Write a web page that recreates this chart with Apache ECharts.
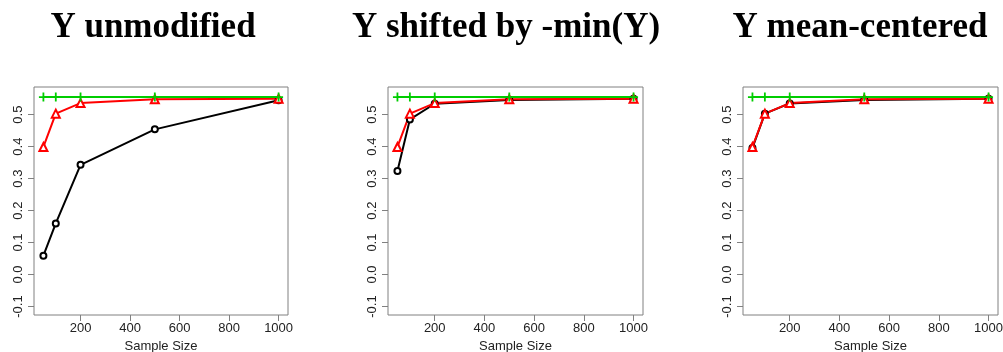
<!DOCTYPE html>
<html>
<head>
<meta charset="utf-8">
<script src="https://cdn.jsdelivr.net/npm/echarts@6/dist/echarts.min.js"></script>
<style>
  html, body { margin: 0; padding: 0; background: #fff; }
  #main { width: 1003px; height: 352px; }
</style>
</head>
<body>
<div id="main"></div>
<script>
var sampleSizes = [50, 100, 200, 500, 1000];
var panelTitles = ['Y unmodified', 'Y shifted by -min(Y)', 'Y mean-centered'];
var xTicks = [200, 400, 600, 800, 1000];
var yTicks = [-0.1, 0, 0.1, 0.2, 0.3, 0.4, 0.5];

// black circles (one per panel)
var blackUnmod = [0.059, 0.160, 0.343, 0.454, 0.545];
var blackShift = [0.324, 0.485, 0.534, 0.546, 0.550];
var blackCenter = [0.396, 0.503, 0.535, 0.546, 0.550];
// red triangles (same in each panel)
var redVals = [0.399, 0.503, 0.536, 0.548, 0.550];
// green plus (same in each panel)
var greenVals = [0.555, 0.555, 0.555, 0.555, 0.555];

var blackSets = [blackUnmod, blackShift, blackCenter];

var chart = echarts.init(document.getElementById('main'));

var boxes = [
  {left: 34, width: 254, tc: 153},
  {left: 388, width: 255, tc: 506},
  {left: 743, width: 255, tc: 860}
];
var plusPath = 'path://M4,0L6,0L6,4L10,4L10,6L6,6L6,10L4,10L4,6L0,6L0,4L4,4Z';

function pairs(vals) {
  return sampleSizes.map(function (x, i) { return [x, vals[i]]; });
}

var grids = [], xAxes = [], yAxes = [], series = [], graphics = [];
boxes.forEach(function (b, i) {
  grids.push({
    left: b.left, width: b.width, top: 87, height: 228,
    outerBoundsMode: 'none', containLabel: false,
    show: true, borderColor: '#808080', borderWidth: 1, backgroundColor: 'transparent'
  });
  xAxes.push({
    type: 'value', gridIndex: i, min: 12, max: 1038,
    name: 'Sample Size', nameLocation: 'middle', nameGap: 24,
    nameTextStyle: {fontFamily: 'Liberation Sans', fontSize: 13, color: '#222'},
    axisLine: {show: false, onZero: false},
    splitLine: {show: false},
    axisTick: {show: true, length: 6, lineStyle: {color: '#808080'}, customValues: xTicks},
    axisLabel: {fontFamily: 'Liberation Sans', fontSize: 13, color: '#222', margin: 7,
      customValues: xTicks, formatter: function (v) { return String(v); }}
  });
  yAxes.push({
    type: 'value', gridIndex: i, min: -0.1264, max: 0.5864,
    axisLine: {show: false, onZero: false},
    splitLine: {show: false},
    axisTick: {show: true, length: 6, lineStyle: {color: '#808080'}, customValues: yTicks},
    axisLabel: {fontFamily: 'Liberation Sans', fontSize: 13, color: '#222', rotate: 90, margin: 9,
      customValues: yTicks, formatter: function (v) { return v.toFixed(1); }}
  });
  series.push({
    type: 'line', xAxisIndex: i, yAxisIndex: i, data: pairs(blackSets[i]),
    lineStyle: {color: '#000', width: 2}, itemStyle: {color: '#fff', borderColor: '#000', borderWidth: 2},
    symbol: 'circle', symbolSize: 6, showAllSymbol: true, animation: false
  });
  series.push({
    type: 'line', xAxisIndex: i, yAxisIndex: i, data: pairs(redVals),
    lineStyle: {color: '#ff0000', width: 2}, itemStyle: {color: '#fff', borderColor: '#ff0000', borderWidth: 2},
    symbol: 'triangle', symbolSize: 8, showAllSymbol: true, animation: false
  });
  series.push({
    type: 'line', xAxisIndex: i, yAxisIndex: i, data: pairs(greenVals),
    lineStyle: {color: '#00cd00', width: 2}, itemStyle: {color: '#00cd00', borderWidth: 0},
    symbol: plusPath, symbolSize: 9, showAllSymbol: true, animation: false
  });
  graphics.push({
    type: 'text', x: b.tc, y: 28,
    style: {text: panelTitles[i], x: 0, y: 0, align: 'center', verticalAlign: 'middle',
      font: 'bold 35px "Liberation Serif"', fill: '#000'}
  });
});

chart.setOption({
  animation: false,
  grid: grids,
  xAxis: xAxes,
  yAxis: yAxes,
  series: series,
  graphic: graphics
});
</script>
</body>
</html>
